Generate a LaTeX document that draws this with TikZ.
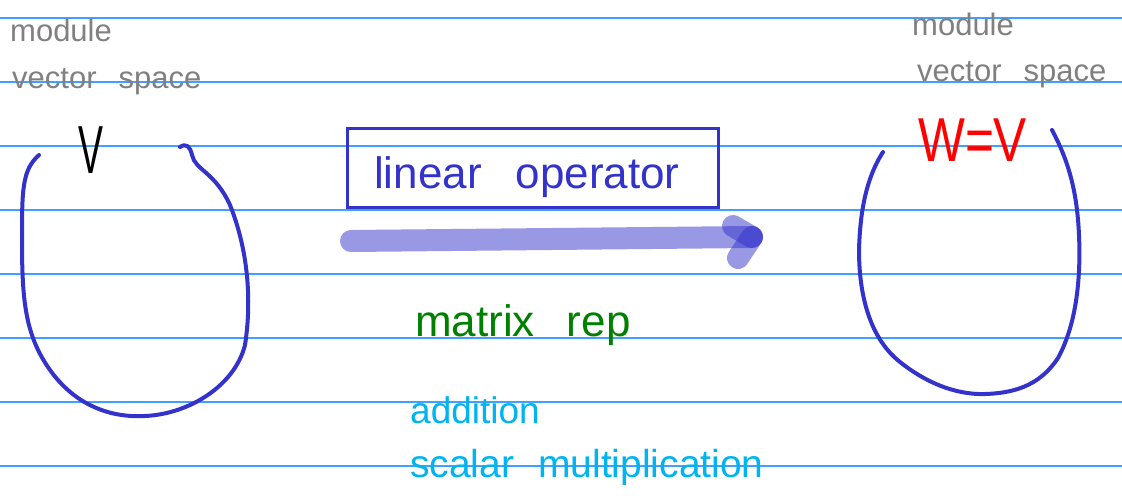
\documentclass[tikz,border=0pt]{standalone}
\usepackage{fontspec}
\setmainfont{Liberation Sans}
\usepackage{graphicx}
\definecolor{ruleblue}{RGB}{64,160,255}
\definecolor{penblue}{RGB}{51,51,204}
\definecolor{pengray}{RGB}{128,128,128}
\definecolor{pengreen}{RGB}{0,128,0}
\definecolor{pencyan}{RGB}{0,180,240}
\definecolor{penred}{RGB}{255,0,0}
\tikzset{
  rule/.style={ruleblue, line width=1.5pt},
  loop/.style={penblue, line width=4pt, line cap=round, line join=round},
  hw/.style={inner sep=0pt, anchor=base west},
  graylabel/.style={hw, text=pengray, font=\fontsize{31}{33}\selectfont},
  bigarrow/.style={penblue, opacity=0.5, line width=22pt, line cap=round},
}
\begin{document}
\begin{tikzpicture}[x=1pt,y=-1pt]
\useasboundingbox (0,0) rectangle (1122,500);
\fill[white] (0,0) rectangle (1122,500);
% ruled lines
\foreach \yy in {18,82,146,210,274,338,402,466}
  \draw[rule] (0,\yy) -- (1122,\yy);

% left labels
\node[graylabel] (lmod) at (10,42) {module};
\node[graylabel] (lvs) at (12,89) {vector\hspace{22pt}space};
% right labels
\node[graylabel] (rmod) at (912,36) {module};
\node[graylabel] (rvs) at (917,82) {vector\hspace{22pt}space};

% V and W=V
\node[hw, font=\fontsize{68}{72}\selectfont] (V) at (78,174) {\scalebox{0.55}[1]{V}};
\node[hw, text=penred, font=\fontsize{62}{66}\selectfont] (W) at (918,162) {\scalebox{0.8}[1]{W=V}};

% left loop
\draw[loop] (39,155) .. controls (22,170) and (22,190) .. (22,240)
  .. controls (22,300) and (25,335) .. (50,370)
  .. controls (75,405) and (110,418) .. (145,416)
  .. controls (190,414) and (235,385) .. (245,345)
  .. controls (252,300) and (248,250) .. (230,205)
  .. controls (215,172) and (195,170) .. (192,155)
  .. controls (190,146) and (186,143) .. (180,147);

% right loop
\draw[loop] (883,152) .. controls (865,180) and (860,215) .. (859,250)
  .. controls (859,300) and (872,340) .. (900,362)
  .. controls (925,382) and (955,395) .. (985,394)
  .. controls (1020,393) and (1042,382) .. (1058,358)
  .. controls (1076,325) and (1081,280) .. (1079,235)
  .. controls (1077,190) and (1068,160) .. (1052,130);

% linear operator box
\node[draw=penblue, line width=3pt, minimum width=371pt, minimum height=79pt, inner sep=0pt, anchor=north west] (box) at (346,127) {};
\node[hw, text=penblue, font=\fontsize{44}{48}\selectfont] (lin) at (374,188) {linear\hspace{34pt}operator};

% big arrow
\coordinate (as) at (351,241);
\coordinate (ae) at (752,237);
\coordinate (h1) at (733,226);
\coordinate (h2) at (738,258);
\draw[bigarrow] (as) -- (ae);
\draw[bigarrow] (h1) -- (ae);
\draw[bigarrow] (h2) -- (ae);

% matrix rep
\node[hw, text=pengreen, font=\fontsize{44}{48}\selectfont] (mat) at (415,336) {matrix\hspace{32pt}rep};
% addition / scalar multiplication
\node[hw, text=pencyan, font=\fontsize{37}{40}\selectfont] (add) at (410,423) {addition};
\node[hw, text=pencyan, font=\fontsize{39}{42}\selectfont] (smul) at (410,477) {scalar\hspace{24pt}multiplication};
\end{tikzpicture}
\end{document}
